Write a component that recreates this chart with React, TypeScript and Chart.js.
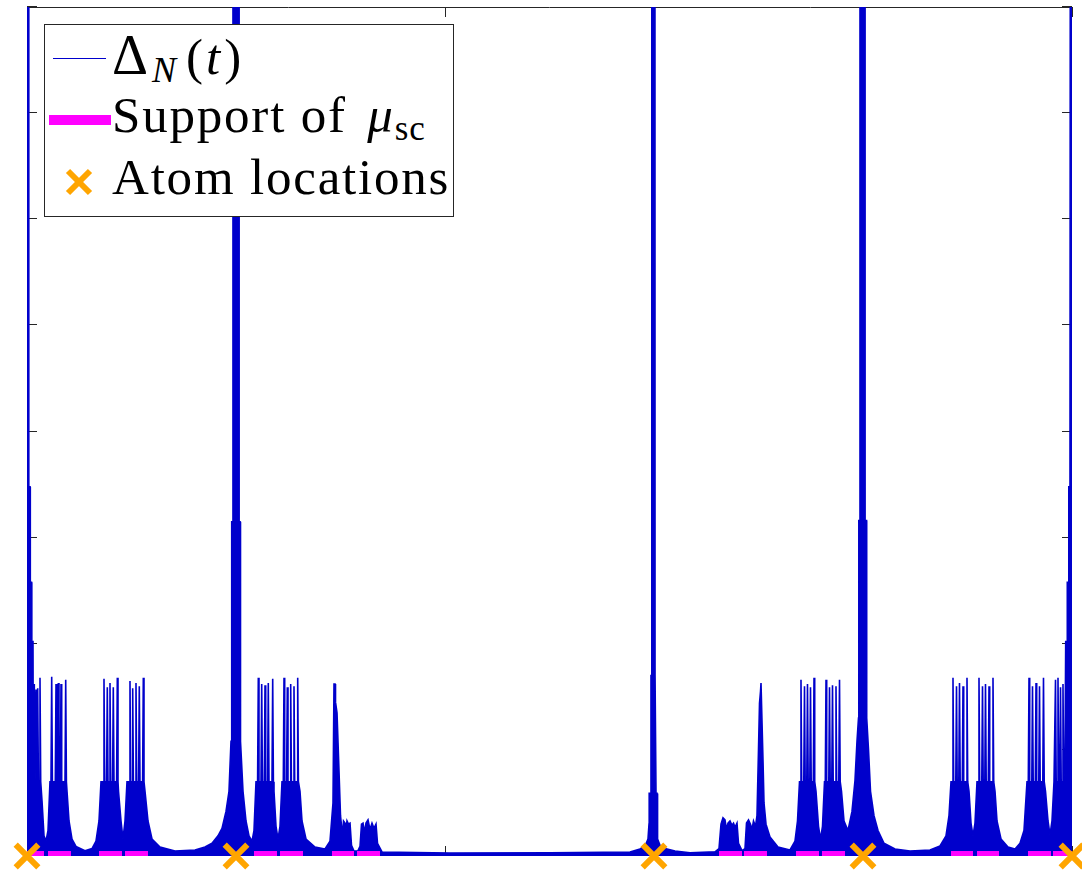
import React, { useEffect, useRef } from "react";
import { Chart, registerables } from "chart.js";

Chart.register(...registerables);

// ---- data (t in [0,5], Δ_N in [0,8]) ----
const xTickValues = [0, 1, 2, 3, 4, 5];
const yTickValues = [0, 1, 2, 3, 4, 5, 6, 7, 8];
const atomLocations = [0, 1, 3, 4, 5];

const supportStarts = [0, 0.1005, 0.3445, 0.4689, 1.0861, 1.2105, 1.4593, 1.5789, 3.311, 3.4306, 3.6794, 3.8038, 4.4211, 4.5455, 4.7895, 4.9091];
const supportEnds = [0.0813, 0.2105, 0.4545, 0.5789, 1.1962, 1.3206, 1.5646, 1.689, 3.4211, 3.5407, 3.7895, 3.9139, 4.5263, 4.6507, 4.8995, 5.0];

const deltaLeft: [number, number][] = [
  [0, 9], [0.0072, 9], [0.0086, 3.48], [0.0144, 3.48], [0.0158, 2.58], [0.0215, 2.58], [0.023, 2.02], [0.0287, 2.02], [0.0301, 0.7],
  [0.0316, 0.7], [0.0349, 1.62], [0.0383, 0.7], [0.0397, 0.7], [0.0431, 1.57], [0.0464, 0.7],
  [0.0478, 0.7], [0.0512, 1.58], [0.0545, 0.7], [0.0589, 0.7], [0.0622, 1.68], [0.0656, 0.7],
  [0.0718, 0.52], [0.0813, 0.19], [0.0909, 0.14], [0.1005, 0.24], [0.11, 0.7],
  [0.1148, 0.7], [0.1182, 1.69], [0.1215, 0.7], [0.1354, 0.7], [0.1388, 1.62], [0.1421, 0.7],
  [0.1464, 0.7], [0.1498, 1.63], [0.1531, 0.7], [0.1593, 0.7], [0.1627, 1.62], [0.166, 0.7],
  [0.1818, 0.7], [0.1852, 1.66], [0.1885, 0.7],
  [0.1914, 0.61], [0.201, 0.33], [0.2153, 0.16], [0.2344, 0.09], [0.2775, 0.05], [0.311, 0.07], [0.3301, 0.14], [0.3445, 0.33], [0.3541, 0.7],
  [0.3651, 0.7], [0.3684, 1.67], [0.3718, 0.7], [0.3809, 0.7], [0.3842, 1.59], [0.3876, 0.7],
  [0.3938, 0.7], [0.3971, 1.63], [0.4005, 0.7], [0.4096, 0.7], [0.4129, 1.59], [0.4163, 0.7],
  [0.4287, 0.7], [0.4321, 1.68], [0.4354, 0.7],
  [0.4378, 0.61], [0.4498, 0.33], [0.4593, 0.16], [0.4689, 0.33], [0.4785, 0.7],
  [0.4895, 0.7], [0.4928, 1.65], [0.4962, 0.7], [0.5024, 0.7], [0.5057, 1.58], [0.5091, 0.7],
  [0.5182, 0.7], [0.5215, 1.63], [0.5249, 0.7], [0.534, 0.7], [0.5373, 1.6], [0.5407, 0.7],
  [0.5531, 0.7], [0.5565, 1.68], [0.5598, 0.7],
  [0.5646, 0.61], [0.5789, 0.33], [0.5981, 0.16], [0.6364, 0.085], [0.7081, 0.047], [0.8038, 0.057],
  [0.8517, 0.085], [0.8852, 0.12], [0.9139, 0.19], [0.933, 0.26], [0.9522, 0.42], [0.9665, 0.61], [0.9761, 1.08],
];

const deltaPeakOne: [number, number][] = [
  [0.9785, 1.3], [0.9805, 3.15], [0.985, 3.15], [0.9855, 9], [1.0145, 9], [1.015, 3.15], [1.0195, 3.15], [1.0215, 1.08],
  [1.0335, 0.61], [1.0478, 0.33], [1.0622, 0.19], [1.0766, 0.14], [1.0861, 0.24], [1.0957, 0.7],
  [1.1033, 0.7], [1.1067, 1.68], [1.11, 0.7], [1.1196, 0.7], [1.123, 1.62], [1.1263, 0.7],
  [1.1354, 0.7], [1.1388, 1.61], [1.1421, 0.7], [1.1512, 0.7], [1.1545, 1.63], [1.1579, 0.7],
  [1.1722, 0.7], [1.1756, 1.67], [1.1789, 0.7],
  [1.1818, 0.61], [1.1914, 0.28], [1.201, 0.16], [1.2105, 0.28], [1.2201, 0.7],
  [1.2263, 0.7], [1.2297, 1.68], [1.233, 0.7], [1.2421, 0.7], [1.2455, 1.59], [1.2488, 0.7],
  [1.2584, 0.7], [1.2617, 1.62], [1.2651, 0.7], [1.2742, 0.7], [1.2775, 1.6], [1.2809, 0.7],
  [1.2919, 0.7], [1.2952, 1.68], [1.2986, 0.7],
  [1.3062, 0.61], [1.3158, 0.33], [1.3349, 0.16], [1.378, 0.085], [1.4258, 0.066], [1.4498, 0.14],
  [1.4641, 0.5], [1.4689, 1.62], [1.4737, 1.62], [1.4761, 1.45], [1.4833, 1.35], [1.4928, 0.8], [1.5, 0.38], [1.5096, 0.19],
  [1.5144, 0.33], [1.5215, 0.31], [1.5263, 0.25], [1.5311, 0.33], [1.5383, 0.3], [1.5455, 0.31], [1.5526, 0.1],
  [1.5646, 0.047], [1.5837, 0.05], [1.5933, 0.09], [1.6005, 0.3], [1.6077, 0.31], [1.6148, 0.22], [1.622, 0.31],
  [1.6316, 0.34], [1.6411, 0.25], [1.6507, 0.31], [1.6603, 0.26], [1.6699, 0.3], [1.677, 0.12], [1.6986, 0.038],
];

const deltaMiddle: [number, number][] = [
  [2.0239, 0.028], [2.5024, 0.03], [2.8852, 0.038], [2.933, 0.066], [2.9569, 0.094], [2.9713, 0.16], [2.9761, 0.3],
  [2.977, 0.59], [2.985, 0.59], [2.9856, 1.7], [2.989, 1.7], [2.9895, 9], [3.0045, 9], [3.005, 1.7], [3.009, 1.7],
  [3.0096, 0.59], [3.0144, 0.59], [3.015, 0.3], [3.0191, 0.16], [3.0287, 0.1], [3.0526, 0.07], [3.1005, 0.047], [3.1722, 0.03],
  [3.2919, 0.04], [3.311, 0.07], [3.3206, 0.3], [3.3301, 0.36], [3.3397, 0.34], [3.3469, 0.25], [3.3541, 0.31],
  [3.3636, 0.33], [3.3732, 0.29], [3.3804, 0.31], [3.3876, 0.27], [3.3971, 0.31], [3.4043, 0.12], [3.4211, 0.05],
  [3.4354, 0.07], [3.4426, 0.31], [3.4522, 0.34], [3.4617, 0.3], [3.4689, 0.25], [3.4761, 0.33], [3.4856, 0.28],
  [3.4928, 0.38], [3.5, 1.0], [3.5048, 1.44], [3.5096, 1.55], [3.512, 1.63], [3.5167, 1.63], [3.5215, 0.9],
  [3.5263, 0.5], [3.5359, 0.3], [3.555, 0.18], [3.5933, 0.085], [3.6507, 0.057], [3.6746, 0.14], [3.6866, 0.33], [3.6962, 0.7],
  [3.7, 0.7], [3.7033, 1.66], [3.7067, 0.7], [3.7167, 0.7], [3.7201, 1.6], [3.7234, 0.7],
  [3.7311, 0.7], [3.7344, 1.62], [3.7378, 0.7], [3.7455, 0.7], [3.7488, 1.59], [3.7522, 0.7],
  [3.7622, 0.7], [3.7656, 1.68], [3.7689, 0.7],
  [3.7751, 0.61], [3.7871, 0.28], [3.7967, 0.16], [3.8062, 0.28], [3.8158, 0.7],
  [3.8196, 0.7], [3.823, 1.66], [3.8263, 0.7], [3.8364, 0.7], [3.8397, 1.59], [3.8431, 0.7],
  [3.8507, 0.7], [3.8541, 1.61], [3.8574, 0.7], [3.8675, 0.7], [3.8708, 1.6], [3.8742, 0.7],
  [3.8842, 0.7], [3.8876, 1.66], [3.8909, 0.7],
  [3.8971, 0.61], [3.9091, 0.33], [3.9282, 0.24], [3.9474, 0.42], [3.9617, 0.71], [3.9713, 1.08],
];

const deltaRight: [number, number][] = [
  [3.9785, 1.3], [3.98, 3.16], [3.985, 3.16], [3.9856, 9], [4.0096, 9], [4.01, 3.16], [4.017, 3.16], [4.0177, 1.3],
  [4.0263, 1.0], [4.0359, 0.61], [4.0526, 0.38], [4.0718, 0.24], [4.1005, 0.12], [4.1531, 0.066], [4.2249, 0.047],
  [4.3206, 0.057], [4.3684, 0.094], [4.3971, 0.19], [4.4115, 0.38], [4.4211, 0.7],
  [4.4273, 0.7], [4.4306, 1.68], [4.434, 0.7], [4.444, 0.7], [4.4474, 1.6], [4.4507, 0.7],
  [4.4584, 0.7], [4.4617, 1.63], [4.4651, 0.7], [4.4751, 0.7], [4.4785, 1.6], [4.4818, 0.7],
  [4.4943, 0.7], [4.4976, 1.68], [4.501, 0.7],
  [4.5072, 0.61], [4.5167, 0.31], [4.5263, 0.19], [4.5359, 0.31], [4.5455, 0.7],
  [4.5517, 0.7], [4.555, 1.68], [4.5584, 0.7], [4.5684, 0.7], [4.5718, 1.6], [4.5751, 0.7],
  [4.5828, 0.7], [4.5861, 1.62], [4.5895, 0.7], [4.5995, 0.7], [4.6029, 1.6], [4.6062, 0.7],
  [4.6187, 0.7], [4.622, 1.68], [4.6254, 0.7],
  [4.6316, 0.61], [4.6411, 0.33], [4.6603, 0.16], [4.6938, 0.085], [4.7273, 0.066], [4.7512, 0.12], [4.7703, 0.24], [4.7847, 0.7],
  [4.7909, 0.7], [4.7943, 1.68], [4.7976, 0.7], [4.8077, 0.7], [4.811, 1.6], [4.8144, 0.7],
  [4.8244, 0.7], [4.8278, 1.63], [4.8311, 0.7], [4.8411, 0.7], [4.8445, 1.6], [4.8478, 0.7],
  [4.8603, 0.7], [4.8636, 1.68], [4.867, 0.7],
  [4.8732, 0.61], [4.8852, 0.33], [4.8947, 0.2], [4.9043, 0.33], [4.9139, 0.7],
  [4.9177, 0.7], [4.9211, 1.66], [4.9244, 0.7], [4.9297, 0.7], [4.933, 1.68], [4.9364, 0.7],
  [4.9416, 0.7], [4.945, 1.59], [4.9483, 0.7], [4.9536, 0.7], [4.9569, 1.62], [4.9603, 0.7],
  [4.9665, 0.9], [4.9699, 2.02], [4.9761, 2.02], [4.9775, 2.58], [4.9833, 2.58], [4.9847, 3.48], [4.9904, 3.48], [4.9919, 9], [5.0, 9],
];

const BLUE = "#0000cc";
const MAGENTA = "#ff00ff";
const ORANGE = "#ffa500";
const AXIS = "#262626";

const framePlugin = {
  id: "matlabFrame",
  beforeDatasetsDraw(chart: any) {
    const { ctx, chartArea } = chart;
    const { left, right, top, bottom } = chartArea;
    const xs = chart.scales.x;
    const ys = chart.scales.y;
    const tl = 10;
    ctx.save();
    ctx.strokeStyle = AXIS;
    ctx.lineWidth = 1;
    ctx.beginPath();
    ctx.rect(left + 0.5, top + 0.5, right - left - 1, bottom - top - 1);
    for (const v of xTickValues) {
      const p = Math.round(xs.getPixelForValue(v)) + 0.5;
      ctx.moveTo(p, bottom);
      ctx.lineTo(p, bottom - tl);
      ctx.moveTo(p, top);
      ctx.lineTo(p, top + tl);
    }
    for (const v of yTickValues) {
      const p = Math.round(ys.getPixelForValue(v)) - 0.5;
      ctx.moveTo(left, p);
      ctx.lineTo(left + tl, p);
      ctx.moveTo(right, p);
      ctx.lineTo(right - tl, p);
    }
    ctx.stroke();
    ctx.restore();
  },
};

const serif = '"Liberation Serif", "DejaVu Serif", serif';

export default function App() {
  const canvasRef = useRef<HTMLCanvasElement | null>(null);

  useEffect(() => {
    const canvas = canvasRef.current;
    if (!canvas) return;
    const signal = [...deltaLeft, ...deltaPeakOne, ...deltaMiddle, ...deltaRight].map(([x, y]) => ({ x, y }));
    const support: { x: number; y: number | null }[] = [];
    supportStarts.forEach((s, i) => {
      support.push({ x: s, y: 0 }, { x: supportEnds[i], y: 0 }, { x: supportEnds[i], y: null });
    });
    const atoms = atomLocations.map((x) => ({ x, y: 0 }));

    const chart = new Chart(canvas, {
      type: "line",
      data: {
        datasets: [
          {
            label: "Atom locations",
            data: atoms,
            showLine: false,
            pointStyle: "crossRot",
            pointRadius: 16,
            pointBorderWidth: 6,
            pointBorderColor: ORANGE,
            pointBackgroundColor: ORANGE,
            borderColor: ORANGE,
            clip: false,
            order: 0,
          } as any,
          {
            label: "Support of μsc",
            data: support,
            borderColor: MAGENTA,
            borderWidth: 10,
            borderCapStyle: "butt",
            pointRadius: 0,
            spanGaps: false,
            fill: false,
            order: 1,
          } as any,
          {
            label: "ΔN(t)",
            data: signal,
            borderColor: BLUE,
            backgroundColor: BLUE,
            borderWidth: 1.6,
            pointRadius: 0,
            fill: "origin",
            tension: 0,
            order: 2,
          } as any,
        ],
      },
      options: {
        animation: false,
        responsive: false,
        events: [],
        layout: { autoPadding: false, padding: { left: 27, top: 7, right: 10, bottom: 14 } },
        plugins: { legend: { display: false }, tooltip: { enabled: false } },
        scales: {
          x: { type: "linear", min: 0, max: 5, display: false },
          y: { type: "linear", min: 0, max: 8, display: false },
        },
      } as any,
      plugins: [framePlugin],
    });
    return () => chart.destroy();
  }, []);

  const textRow: React.CSSProperties = {
    position: "absolute",
    left: 112,
    fontFamily: serif,
    fontSize: 51,
    lineHeight: 1,
    letterSpacing: 1.8,
    whiteSpace: "nowrap",
    color: "#000",
  };
  // baseline offset for lineHeight 1 with Liberation Serif ≈ 0.8375em
  const top = (baseline: number) => baseline - Math.round(0.8375 * 51);

  return (
    <div style={{ position: "absolute", left: 0, top: 0, width: 1082, height: 870, background: "#fff" }}>
      <canvas ref={canvasRef} width={1082} height={870} style={{ display: "block" }} />
      <div
        style={{
          position: "absolute",
          left: 44,
          top: 24,
          width: 410,
          height: 193,
          boxSizing: "border-box",
          border: `1px solid ${AXIS}`,
          background: "#fff",
        }}
      />
      <svg style={{ position: "absolute", left: 0, top: 0 }} width={460} height={220}>
        <line x1={53} y1={58.5} x2={106} y2={58.5} stroke={BLUE} strokeWidth={1} />
        <line x1={49} y1={120} x2={111} y2={120} stroke={MAGENTA} strokeWidth={10} />
        <line x1={68} y1={171} x2={90} y2={193} stroke={ORANGE} strokeWidth={6} />
        <line x1={90} y1={171} x2={68} y2={193} stroke={ORANGE} strokeWidth={6} />
      </svg>
      <div style={{ ...textRow, top: top(70), letterSpacing: 0 }}>
        <span style={{ fontSize: 56 }}>Δ</span>
        <span style={{ fontSize: 36, fontStyle: "italic", position: "relative", top: 8, marginLeft: 4 }}>N</span>
        <span style={{ marginLeft: 10 }}>(</span>
        <span style={{ fontStyle: "italic", marginLeft: 3 }}>t</span>
        <span style={{ marginLeft: 4 }}>)</span>
      </div>
      <div style={{ ...textRow, top: top(133) }}>
        Support of <span style={{ fontStyle: "italic", marginLeft: 6 }}>μ</span>
        <span style={{ fontSize: 35, position: "relative", top: 8, letterSpacing: 1 }}>sc</span>
      </div>
      <div style={{ ...textRow, top: top(195) }}>Atom locations</div>
    </div>
  );
}
